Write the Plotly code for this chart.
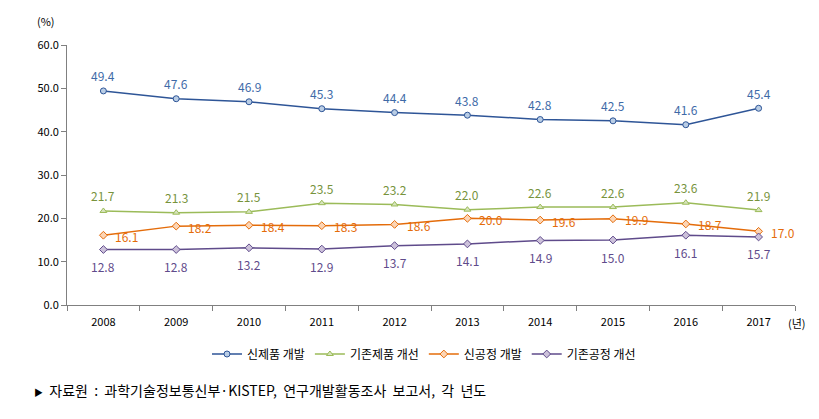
import plotly.graph_objects as go

years = ["2008", "2009", "2010", "2011", "2012", "2013", "2014", "2015", "2016", "2017"]
new_product = [49.4, 47.6, 46.9, 45.3, 44.4, 43.8, 42.8, 42.5, 41.6, 45.4]
improve_product = [21.7, 21.3, 21.5, 23.5, 23.2, 22.0, 22.6, 22.6, 23.6, 21.9]
new_process = [16.1, 18.2, 18.4, 18.3, 18.6, 20.0, 19.6, 19.9, 18.7, 17.0]
improve_process = [12.8, 12.8, 13.2, 12.9, 13.7, 14.1, 14.9, 15.0, 16.1, 15.7]
y_ticks = [0, 10, 20, 30, 40, 50, 60]

FONT = "Noto Sans CJK KR"

# page body has an 8px margin; compensate so the chart lands where the reference has it
OFF = 8
W, H = 819 - OFF, 419 - OFF
ml, mt = 67 - OFF, 45 - OFF
plot_right, plot_bottom = 795 - OFF, 305 - OFF
mr, mb = W - plot_right, H - plot_bottom
pw, ph = plot_right - ml, plot_bottom - mt


def px_x(x):
    return (x - OFF - ml) / pw


def px_y(y):
    return 1 - (y - OFF - mt) / ph


# name, values, line colour, marker fill, symbol, label colour, label placement
series = [
    ("신제품 개발", new_product, "#2e5597", "#b9cde5", "circle", "#3e6aa8", "above"),
    ("기존제품 개선", improve_product, "#9bbb59", "#d7e4bd", "triangle-up", "#77933c", "above"),
    ("신공정 개발", new_process, "#e46c0a", "#fcd5b5", "diamond", "#e46c0a", "right"),
    ("기존공정 개선", improve_process, "#5f4b8b", "#ccc1da", "diamond", "#5f4b8b", "below"),
]

fig = go.Figure()
anns = []
for name, vals, lc, fc, sym, tc, place in series:
    fig.add_trace(go.Scatter(
        x=years, y=vals, name=name, mode="lines+markers",
        line=dict(color=lc, width=1.5),
        marker=dict(symbol=sym, size=6, color=fc, line=dict(color=lc, width=1)),
        cliponaxis=False,
    ))
    for i, v in enumerate(vals):
        # category axis: annotation x given as category index
        a = dict(x=i, y=v, xref="x", yref="y", text=f"{v:.1f}", showarrow=False,
                 font=dict(family=FONT, size=12, color=tc), yanchor="middle")
        if place == "above":
            a.update(xanchor="center", yshift=15)
        elif place == "below":
            a.update(xanchor="center", yshift=-17)
        else:
            a.update(xanchor="left", xshift=10, yshift=-1)
        anns.append(a)

anns += [
    dict(text="(%)", x=px_x(46), y=px_y(21), xref="paper", yref="paper", showarrow=False,
         xanchor="center", yanchor="middle",
         font=dict(family=FONT, size=11, color="#000")),
    dict(text="(년)", x=px_x(797), y=px_y(323), xref="paper", yref="paper", showarrow=False,
         xanchor="center", yanchor="middle",
         font=dict(family=FONT, size=11, color="#000")),
    dict(text="<span style='font-size:9px'>▶</span>  자료원  :  과학기술정보통신부·KISTEP,  연구개발활동조사  보고서,  각  년도",
         x=px_x(32), y=px_y(390), xref="paper", yref="paper", showarrow=False,
         xanchor="left", yanchor="middle", font=dict(family=FONT, size=14, color="#000")),
]

fig.update_layout(
    width=W, height=H,
    paper_bgcolor="white", plot_bgcolor="white",
    margin=dict(l=ml, r=mr, t=mt, b=mb, autoexpand=False),
    font=dict(family=FONT, size=11, color="#000000"),
    showlegend=True,
    legend=dict(orientation="h", x=px_x(424), xanchor="center", y=px_y(354), yanchor="middle",
                font=dict(family=FONT, size=12, color="#000"), itemwidth=30,
                tracegroupgap=0),
    xaxis=dict(type="category", range=[-0.5, 9.5], showline=True, linecolor="#808080",
               linewidth=1, ticks="outside", tickson="boundaries", ticklen=5,
               tickcolor="#808080", showgrid=False, zeroline=False, ticklabelstandoff=7,
               tickfont=dict(family=FONT, size=11, color="#000")),
    yaxis=dict(range=[0, 60], tickvals=y_ticks, tickformat=".1f", showline=True,
               linecolor="#808080", linewidth=1, ticks="outside", ticklen=5,
               tickcolor="#808080", showgrid=False, zeroline=False,
               tickfont=dict(family=FONT, size=11, color="#000")),
    annotations=anns,
)

fig.write_html("out.html")
